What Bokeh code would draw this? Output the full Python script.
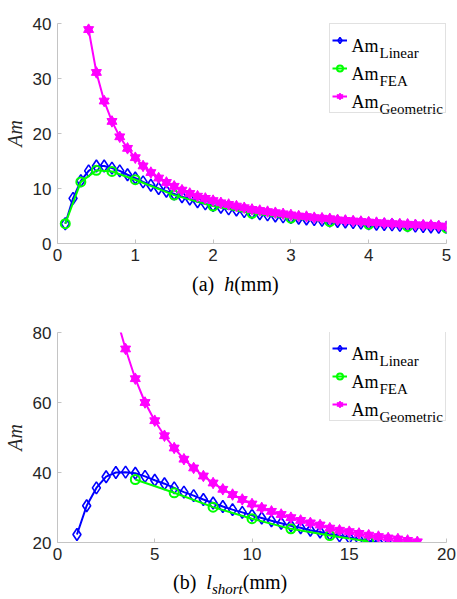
from bokeh.plotting import figure
from bokeh.models import Range1d, FixedTicker, Label, Legend, LegendItem, ColumnDataSource, Div
from bokeh.layouts import column
from bokeh.embed import file_html
from bokeh.resources import INLINE

# ---------------- data: panel (a) ----------------
h_lin = [0.1, 0.2, 0.3, 0.4, 0.5, 0.6, 0.7, 0.8, 0.9, 1.0,
         1.1, 1.2, 1.3, 1.4, 1.5, 1.6, 1.7, 1.8, 1.9, 2.0,
         2.1, 2.2, 2.3, 2.4, 2.5, 2.6, 2.7, 2.8, 2.9, 3.0,
         3.1, 3.2, 3.3, 3.4, 3.5, 3.6, 3.7, 3.8, 3.9, 4.0,
         4.1, 4.2, 4.3, 4.4, 4.5, 4.6, 4.7, 4.8, 4.9, 5.0]
am_lin_a = [3.6, 8.2, 11.4, 13.2, 14.1, 14.1, 13.7, 13.2, 12.5, 11.9,
            11.2, 10.6, 10.0, 9.5, 9.0, 8.5, 8.1, 7.6, 7.2, 6.9,
            6.6, 6.3, 6.1, 5.8, 5.6, 5.4, 5.2, 5.0, 4.85, 4.7,
            4.6, 4.45, 4.35, 4.2, 4.1, 4.0, 3.9, 3.8, 3.7, 3.6,
            3.5, 3.45, 3.4, 3.3, 3.2, 3.15, 3.1, 3.0, 2.95, 2.9]
h_fea = [0.1, 0.3, 0.5, 0.7, 1.0, 1.5, 2.0, 2.5, 3.0, 3.5, 4.0, 4.5, 5.0]
am_fea_a = [3.6, 11.2, 13.3, 13.1, 11.6, 8.8, 6.8, 5.5, 4.6, 4.0, 3.5, 3.1, 2.8]
h_geo = [0.4, 0.5, 0.6, 0.7, 0.8, 0.9, 1.0,
         1.1, 1.2, 1.3, 1.4, 1.5, 1.6, 1.7, 1.8, 1.9, 2.0,
         2.1, 2.2, 2.3, 2.4, 2.5, 2.6, 2.7, 2.8, 2.9, 3.0,
         3.1, 3.2, 3.3, 3.4, 3.5, 3.6, 3.7, 3.8, 3.9, 4.0,
         4.1, 4.2, 4.3, 4.4, 4.5, 4.6, 4.7, 4.8, 4.9, 5.0]
am_geo_a = [38.9, 31.1, 25.9, 22.2, 19.4, 17.3, 15.6,
            14.1, 12.9, 11.9, 11.1, 10.4, 9.7, 9.1, 8.6, 8.2, 7.8,
            7.4, 7.1, 6.8, 6.5, 6.2, 6.0, 5.8, 5.6, 5.4, 5.2,
            5.0, 4.9, 4.7, 4.6, 4.5, 4.3, 4.2, 4.1, 4.0, 3.9,
            3.8, 3.7, 3.6, 3.55, 3.5, 3.4, 3.35, 3.3, 3.2, 3.1]

# ---------------- data: panel (b) ----------------
l_lin = [1.0, 1.5, 2.0, 2.5, 3.0, 3.5, 4.0, 4.5, 5.0, 5.5, 6.0,
         6.5, 7.0, 7.5, 8.0, 8.5, 9.0, 9.5, 10.0, 10.5, 11.0,
         11.5, 12.0, 12.5, 13.0, 13.5, 14.0, 14.5, 15.0, 15.5, 16.0,
         16.5, 17.0]
am_lin_b = [22.3, 30.5, 35.6, 38.8, 40.0, 40.1, 39.8, 38.9, 37.8, 36.8, 35.6,
            34.4, 33.4, 32.3, 31.3, 30.3, 29.4, 28.6, 27.8, 27.0, 26.2,
            25.5, 24.8, 24.2, 23.5, 23.0, 22.4, 21.9, 21.4, 20.9, 20.5,
            20.0, 19.6]
l_fea = [4, 6, 8, 10, 12, 14, 16]
am_fea_b = [38.0, 34.2, 30.1, 26.8, 23.9, 22.0, 20.3]
l_geo = [3.0, 3.5, 4.0, 4.5, 5.0, 5.5, 6.0, 6.5, 7.0, 7.5, 8.0,
         8.5, 9.0, 9.5, 10.0, 10.5, 11.0, 11.5, 12.0, 12.5, 13.0,
         13.5, 14.0, 14.5, 15.0, 15.5, 16.0, 16.5, 17.0, 17.5, 18.0, 18.5]
am_geo_b = [85.0, 75.3, 66.8, 60.0, 54.8, 50.5, 47.0, 43.8, 41.3, 39.0, 37.0,
            35.2, 33.7, 32.3, 31.0, 29.9, 28.9, 28.0, 27.1, 26.3, 25.6,
            25.0, 24.1, 23.5, 23.1, 22.6, 22.1, 21.7, 21.3, 21.0, 20.6, 20.2]

xticks_a = [0, 1, 2, 3, 4, 5]
yticks_a = [0, 10, 20, 30, 40]
xticks_b = [0, 5, 10, 15, 20]
yticks_b = [20, 40, 60, 80]
series_names = ["Linear", "FEA", "Geometric"]

BLUE = "#0000ff"
GREEN = "#00ff00"
MAGENTA = "#ff00ff"
AXIS = "#c4c4c4"
TEXT = "#262626"
SERIF = "Liberation Serif"
SANS = "Liberation Sans"


def make_panel(xr, yr, xt, yt, lin, fea, geo, frame_h, top_border, height,
               legend_bottom):
    p = figure(width=457, height=height, output_backend="svg",
               toolbar_location=None, x_range=Range1d(*xr), y_range=Range1d(*yr),
               min_border_left=56, min_border_right=11,
               min_border_top=top_border, min_border_bottom=height - top_border - frame_h)
    p.outline_line_color = None
    p.xgrid.visible = False
    p.ygrid.visible = False
    p.background_fill_color = "white"
    p.border_fill_color = "white"
    for ax, ticks in ((p.xaxis[0], xt), (p.yaxis[0], yt)):
        ax.ticker = FixedTicker(ticks=ticks)
        ax.minor_tick_line_color = None
        ax.major_tick_in = 4
        ax.major_tick_out = 0
        ax.axis_line_color = AXIS
        ax.major_tick_line_color = AXIS
        ax.major_label_text_font = SANS
        ax.major_label_text_font_size = "17px"
        ax.major_label_text_color = TEXT
        ax.major_label_standoff = 6
    p.xaxis[0].major_label_standoff = 5
    yax = p.yaxis[0]
    yax.axis_label = "Am"
    yax.axis_label_text_font = SERIF
    yax.axis_label_text_font_style = "italic"
    yax.axis_label_text_font_size = "20px"
    yax.axis_label_text_color = TEXT
    yax.axis_label_standoff = 4

    # Linear
    sl = ColumnDataSource(dict(x=lin[0], y=lin[1]))
    l1 = p.line("x", "y", source=sl, color=BLUE, line_width=2)
    m1 = p.scatter("x", "y", source=sl, marker="diamond", size=12,
                   line_color=BLUE, fill_color=None, line_width=1.6)
    # FEA
    sf = ColumnDataSource(dict(x=fea[0], y=fea[1]))
    l2 = p.line("x", "y", source=sf, color=GREEN, line_width=2)
    m2 = p.scatter("x", "y", source=sf, marker="circle", size=9,
                   line_color=GREEN, fill_color=None, line_width=2)
    # Geometric (hexagram = two triangles)
    sg = ColumnDataSource(dict(x=geo[0], y=geo[1]))
    l3 = p.line("x", "y", source=sg, color=MAGENTA, line_width=2)
    m3a = p.scatter("x", "y", source=sg, marker="triangle", size=10,
                    line_color=MAGENTA, fill_color=MAGENTA)
    m3b = p.scatter("x", "y", source=sg, marker="inverted_triangle", size=10,
                    line_color=MAGENTA, fill_color=MAGENTA)

    legend = Legend(items=[LegendItem(label=" ", renderers=[l1, m1]),
                           LegendItem(label=" ", renderers=[l2, m2]),
                           LegendItem(label=" ", renderers=[l3, m3a, m3b])],
                    location=(272, legend_bottom), padding=2, spacing=0,
                    margin=0, glyph_width=15, glyph_height=28,
                    label_height=28, label_width=91, label_standoff=5,
                    border_line_color=AXIS, border_line_width=1,
                    background_fill_alpha=0.0,
                    label_text_font_size="6px")
    p.add_layout(legend, "center")

    top_row_base = legend_bottom + 87 - 19
    for i, name in enumerate(series_names):
        base = top_row_base - 28 * i
        p.add_layout(Label(x=294, y=base, x_units="screen", y_units="screen",
                           text="Am", text_font=SERIF, text_font_size="18px",
                           text_color="black", text_baseline="alphabetic",
                           level="overlay"))
        p.add_layout(Label(x=322, y=base - 7, x_units="screen", y_units="screen",
                           text=name, text_font=SERIF, text_font_size="15px",
                           text_color="black", text_baseline="alphabetic",
                           level="overlay"))
    return p


def make_xlabel(html, pad_left, pad_top, height):
    return Div(text=html, width=457, height=height, margin=(0, 0, 0, 0),
               styles={"font-family": SERIF, "font-size": "20px",
                       "line-height": "20px", "color": "black",
                       "padding-left": f"{pad_left}px", "padding-top": f"{pad_top}px",
                       "white-space": "nowrap", "overflow": "hidden",
                       "box-sizing": "border-box", "background": "white"})


pa = make_panel((0, 5), (0, 40), xticks_a, yticks_a,
                (h_lin, am_lin_a), (h_fea, am_fea_a), (h_geo, am_geo_a),
                frame_h=220, top_border=23, height=270, legend_bottom=130)
la = make_xlabel("(a)&nbsp;&nbsp;<i>h</i>(mm)", 192, 4, 30)

pb = make_panel((0, 20), (20, 80), xticks_b, yticks_b,
                (l_lin, am_lin_b), (l_fea, am_fea_b), (l_geo, am_geo_b),
                frame_h=210, top_border=32, height=270, legend_bottom=121)
lb = make_xlabel("(b)&nbsp;&nbsp;<i>l</i><i style=\"font-size:15px; "
                 "vertical-align:-5px; line-height:0\">short</i>(mm)", 173, 2, 29)

layout = column(pa, la, pb, lb, spacing=0)
open("out.html", "w").write(file_html(layout, INLINE))
